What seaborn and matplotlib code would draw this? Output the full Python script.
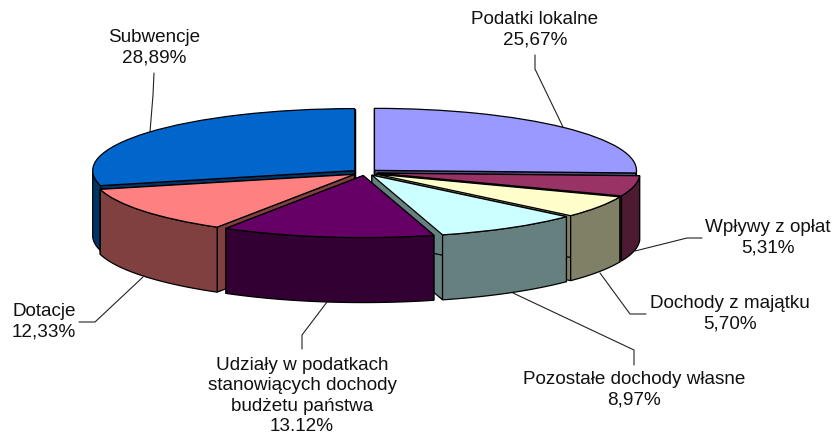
import numpy as np
import matplotlib.pyplot as plt
import seaborn as sns

names = ["Podatki lokalne", "Wpływy z opłat", "Dochody z majątku",
         "Pozostałe dochody własne",
         "Udziały w podatkach\nstanowiących dochody\nbudżetu państwa",
         "Dotacje", "Subwencje"]
shares = [25.67, 5.31, 5.70, 8.97, 13.12, 12.33, 28.89]
# as printed on the chart, one of them has a dot
share_labels = ["25,67%", "5,31%", "5,70%", "8,97%", "13.12%", "12,33%", "28,89%"]
hex_colors = ["#9999FF", "#993366", "#FFFFCC", "#CCFFFF", "#660066", "#FF8080", "#0066CC"]
# back slices first, the front ones paint over them
draw_order = [0, 6, 1, 5, 2, 3, 4]

W, H = 837, 434
CX, CY, RX, RY = 365, 172.5, 262, 62
DEPTH = 65 / RY


def px(x, y):
    # picture pixels to data units, y axis is squashed so the pie is an ellipse
    return (x - CX) / RX, (CY - y) / RY


sns.set_theme(style="white")
plt.rcParams['font.family'] = ['Liberation Sans', 'DejaVu Sans']
palette = sns.color_palette(hex_colors)
sides = [tuple(c * 0.5 for c in col) for col in palette]

fig = plt.figure(figsize=(W / 100, H / 100), dpi=100)
ax = fig.add_axes([0, 0, 1, 1])

wedges, _ = ax.pie(shares, colors=palette, explode=[0.05] * len(shares), startangle=90,
                   counterclock=False, wedgeprops=dict(edgecolor="black", linewidth=0.9))
ax.set_aspect("auto")
ax.set_xlim(px(0, 0)[0], px(W, 0)[0])
ax.set_ylim(px(0, H)[1], px(0, 0)[1])

for i in draw_order:
    w = wedges[i]
    cx, cy = w.center
    t1, t2 = np.radians(w.theta1), np.radians(w.theta2)
    wall = dict(facecolor=sides[i], edgecolor="black", linewidth=0.9)
    layer = 10 * draw_order.index(i)
    for t in (t1, t2):
        ax.fill([cx, cx + np.cos(t), cx + np.cos(t), cx],
                [cy, cy + np.sin(t), cy + np.sin(t) - DEPTH, cy - DEPTH],
                zorder=layer + 1, **wall)
    # curved outer wall, only the part facing us
    lo, hi = max(t1, np.radians(-180)), min(t2, 0)
    if t1 > np.pi / 2:
        lo, hi = t1 - 2 * np.pi, min(t2 - 2 * np.pi, 0)
    if hi > lo:
        tt = np.linspace(lo, hi, 80)
        xs = cx + np.cos(tt)
        ys = cy + np.sin(tt)
        ax.fill(np.r_[xs, xs[::-1]], np.r_[ys, ys[::-1] - DEPTH],
                zorder=layer + 2, **wall)
    w.set_zorder(layer + 3)

leaders = [
    [(535, 55), (535, 69), (563, 127)],
    [(702, 238), (687, 238), (635, 251)],
    [(646, 314), (630, 314), (600, 273)],
    [(634, 365), (634, 350), (513, 293)],
    [(302, 349), (302, 335), (327, 302)],
    [(79, 322), (95, 322), (143, 277)],
    [(154, 73), (153, 95), (150, 132)],
]
label_xy = [(535, 30), (768, 238), (730, 314), (634, 390), (302, 396), (44, 322), (154, 48)]

for pts in leaders:
    xy = np.array([px(*p) for p in pts])
    ax.plot(xy[:, 0], xy[:, 1], color="#222222", lw=0.8, zorder=1)

for name, lab, pos in zip(names, share_labels, label_xy):
    x, y = px(*pos)
    ax.text(x, y, f"{name}\n{lab}", ha="center", va="center",
            fontsize=13.6, color="#111111", linespacing=1.27, zorder=100)

fig.savefig("out.png", dpi=100)
